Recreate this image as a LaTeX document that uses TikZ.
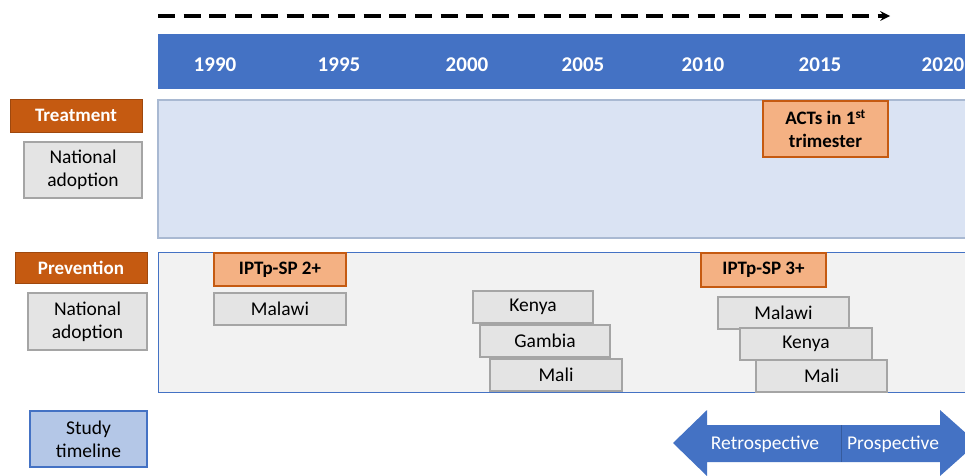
\documentclass[tikz,border=0pt]{standalone}
\usepackage{fontspec}
\setmainfont{Carlito}
\usepackage{xcolor}
\usepackage{tikz}
\usetikzlibrary{shapes,arrows}

\definecolor{barblue}{HTML}{4472C4}
\definecolor{paleblue}{HTML}{DAE3F3}
\definecolor{lightblue}{HTML}{B4C7E7}
\definecolor{rust}{HTML}{C55A11}
\definecolor{peach}{HTML}{F4B183}
\definecolor{boxgray}{HTML}{E4E4E4}
\definecolor{edgegray}{HTML}{A5A5A5}
\definecolor{panelgray}{HTML}{F2F2F2}

\begin{document}
\begin{tikzpicture}[
        x=1pt, y=-1pt,
        font=\fontsize{19.5}{23}\selectfont,
        year/.style={text=white, font=\fontsize{21}{24}\selectfont\bfseries},
        rowlabel/.style={fill=rust, draw=rust!80!black, line width=1pt, text=white,
            font=\fontsize{19}{23}\selectfont\bfseries, inner sep=0pt},
        graybox/.style={fill=boxgray, draw=edgegray, line width=1.2pt, inner sep=0pt, align=center},
        drugbox/.style={fill=peach, draw=rust, line width=1.2pt, inner sep=0pt, align=center,
            font=\fontsize{19}{23}\selectfont\bfseries}
      ]
      \clip (0,0) rectangle (965,475);
      \fill[white] (0,0) rectangle (965,475);

      % time direction
      \draw[line width=3.2pt, dash pattern=on 17pt off 8.7pt, -stealth] (158,16) -- (890,16);

      % year band
      \fill[barblue] (158,34) rectangle (968,89);
      \foreach \yr/\xpos in {1990/215, 1995/339, 2000/467, 2005/583, 2010/703, 2015/820, 2020/943}
        \node[year] (y\yr) at (\xpos,64.5) {\yr};

      % panels
      \filldraw[fill=paleblue, draw=lightblue!80!gray, line width=1.2pt] (158,100) rectangle (970,238);
      \filldraw[fill=panelgray, draw=barblue, line width=0.9pt] (158,252) rectangle (970,392);

      % row labels
      \node[rowlabel, minimum width=132pt, minimum height=33pt] (trt) at (76,115.5) {Treatment};
      \node[graybox, minimum width=118pt, minimum height=56pt] (trtnat) at (83,170) {National\\adoption};
      \node[rowlabel, minimum width=132pt, minimum height=31pt] (prv) at (81,267.5) {Prevention};
      \node[graybox, minimum width=119pt, minimum height=57pt] (prvnat) at (87.5,321.5) {National\\adoption};
      \node[graybox, fill=lightblue, draw=barblue, minimum width=117pt, minimum height=56pt] (study) at (88.5,439) {Study\\timeline};

      % treatment
      \node[drugbox, minimum width=125pt, minimum height=56pt] (acts) at (825.5,129) {ACTs in 1\textsuperscript{st}\\trimester};

      % prevention
      \node[drugbox, minimum width=132pt, minimum height=33pt] (ipt2) at (280,269.5) {IPTp-SP 2+};
      \node[graybox, minimum width=132pt, minimum height=32pt] (malawiA) at (280,309) {Malawi};
      \node[graybox, minimum width=120pt, minimum height=32pt] (kenyaA) at (533,307) {Kenya};
      \node[graybox, minimum width=130pt, minimum height=32pt] (gambiaA) at (545,341) {Gambia};
      \node[graybox, minimum width=132pt, minimum height=32pt] (maliA) at (556,375) {Mali};
      \node[drugbox, minimum width=125pt, minimum height=34pt] (ipt3) at (763.5,270) {IPTp-SP 3+};
      \node[graybox, minimum width=131pt, minimum height=32pt] (malawiB) at (783.5,313) {Malawi};
      \node[graybox, minimum width=132pt, minimum height=32pt] (kenyaB) at (806,344) {Kenya};
      \node[graybox, minimum width=131pt, minimum height=32pt] (maliB) at (821.5,376) {Mali};

      % study timeline arrow
      \fill[barblue] (673,443) -- (707,410) -- (707,425) -- (940,425) -- (940,410) -- (977,443)
        -- (940,476) -- (940,462) -- (707,462) -- (707,476) -- cycle;
      \draw[barblue!80!black, line width=0.8pt] (841,425) -- (841,462);
      \node[text=white] (retro) at (765,444) {Retrospective};
      \node[text=white] (pro) at (893,444) {Prospective};
    \end{tikzpicture}
\end{document}
